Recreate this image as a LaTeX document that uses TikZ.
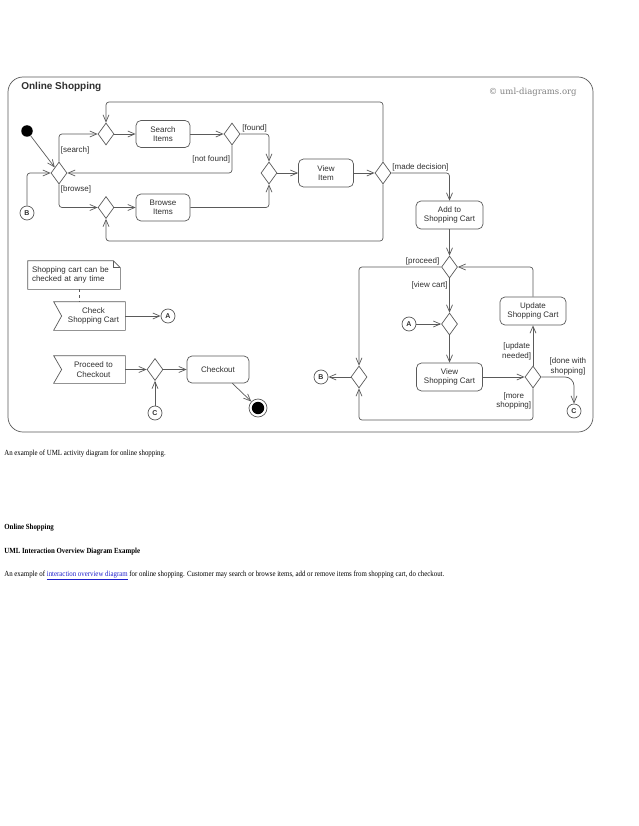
\documentclass[tikz,border=0pt]{standalone}
\usepackage{fontspec}
\setmainfont{Liberation Serif}
\setsansfont{Liberation Sans}
\newfontfamily\copyfont{DejaVu Serif}
\newfontfamily\pagefont[FakeStretch=0.88]{Liberation Serif}
\usetikzlibrary{shapes.geometric,arrows.meta}

\definecolor{linegray}{HTML}{5A5A5A}
\definecolor{textgray}{HTML}{303030}
\definecolor{linkblue}{HTML}{2020CC}

\tikzset{
  diag/.style={font=\sffamily\fontsize{8}{9.5}\selectfont, text=textgray},
  action/.style={diag, draw=linegray, rounded corners=5pt, align=center, inner sep=1pt},
  decision/.style={diamond, draw=linegray, minimum width=16pt, minimum height=22pt, inner sep=0pt},
  conn/.style={circle, draw=linegray, minimum size=14pt, inner sep=0pt, text=textgray, font=\sffamily\bfseries\fontsize{7}{8}\selectfont},
  initial/.style={circle, fill=black, minimum size=11.5pt, inner sep=0pt},
  final/.style={circle, draw=linegray, minimum size=18pt, inner sep=0pt,
    path picture={\fill[black] (path picture bounding box.center) circle (6.2pt);}},
  event/.style={diag, align=center, minimum width=63pt, inner sep=1pt},
  note/.style={diag, align=left, text width=84pt, minimum height=28pt, inner sep=4pt},
  guard/.style={diag, inner sep=1.5pt},
  flow/.style={draw=linegray, rounded corners=3pt, -{Straight Barb[length=7pt,width=6pt]}},
  page/.style={inner sep=0pt, anchor=base west, text=black, font=\pagefont\fontsize{7.8}{9}\selectfont}
}

\begin{document}
\begin{tikzpicture}[x=1pt,y=-1pt,line width=0.7pt]
\fill[white] (0,0) rectangle (638,826);
\useasboundingbox (0,0) rectangle (638,826);

% frame
\draw[linegray, rounded corners=15pt] (8,77) rectangle (593,432);
\node[anchor=west, inner sep=0pt, text=textgray, font=\sffamily\bfseries\fontsize{10}{12}\selectfont] (title) at (21,87) {Online Shopping};
\node[anchor=east, inner sep=0pt, text=gray, font=\copyfont\fontsize{8.5}{10}\selectfont] (copy) at (577,92) {© uml-diagrams.org};

\coordinate (looptop) at (0,102);
\coordinate (loopbot) at (0,241);
\coordinate (cartbot) at (0,420);

% search and browse
\node[initial] (init) at (27,131) {};
\node[decision] (d1) at (59,173) {};
\node[decision] (m1) at (106,134) {};
\node[action, minimum width=54pt, minimum height=27pt] (search) at (163,134) {Search\\Items};
\node[decision] (d2) at (232,134) {};
\node[decision] (m2) at (106,207.5) {};
\node[action, minimum width=54pt, minimum height=27pt] (browse) at (163,207.5) {Browse\\Items};
\node[decision] (m3) at (269,173) {};
\node[action, minimum width=55pt, minimum height=28pt] (view) at (326,173) {View\\Item};
\node[decision] (d4) at (383,173) {};
\node[conn] (b1) at (27,213) {B};

% shopping cart
\node[action, minimum width=67pt, minimum height=28pt] (add) at (449.5,215) {Add to\\Shopping Cart};
\node[decision] (d5) at (449.5,267) {};
\node[decision] (d7) at (449.5,324) {};
\node[conn] (a2) at (409,324) {A};
\node[action, minimum width=66pt, minimum height=28pt] (vcart) at (449.5,377) {View\\Shopping Cart};
\node[decision] (d8) at (533,377) {};
\node[action, minimum width=66pt, minimum height=28pt] (ucart) at (533,311) {Update\\Shopping Cart};
\node[decision] (d6) at (359,377) {};
\node[conn] (b2) at (321,377) {B};
\node[conn] (c2) at (574,411) {C};

% events and checkout
\node[note] (note) at (74,275) {Shopping cart can be\\checked at any time};
\node[event, minimum height=28pt] (check) at (93.5,316) {Check\\Shopping Cart};
\node[conn] (a1) at (168,316) {A};
\node[event, minimum height=27pt] (proceed) at (93.5,369.5) {Proceed to\\Checkout};
\node[decision] (d9) at (155,369.5) {};
\node[conn] (c1) at (155,413) {C};
\node[action, minimum width=62pt, minimum height=27pt] (checkout) at (218,369.5) {Checkout};
\node[final] (final) at (258,408) {};

\foreach \n in {check,proceed}
  \draw[linegray] ([xshift=-8pt]\n.north west) -- (\n.north east) -- (\n.south east)
    -- ([xshift=-8pt]\n.south west) -- (\n.west) -- cycle;
\draw[linegray] (note.north west) -- ([xshift=-7pt]note.north east) -- ([yshift=-7pt]note.north east)
  -- (note.south east) -- (note.south west) -- cycle;
\draw[linegray] ([xshift=-7pt]note.north east) -- ([xshift=-7pt,yshift=-7pt]note.north east) -- ([yshift=-7pt]note.north east);
\draw[linegray, dashed] ([xshift=5pt]note.south) -- ([xshift=5pt]note.south |- check.north);

% flows, upper part
\draw[flow] (init) -- (d1);
\draw[flow] (b1) |- (d1);
\draw[flow] (d1) |- node[guard, pos=0.2, anchor=west] {[search]} (m1);
\draw[flow] (d1) |- node[guard, pos=0, anchor=north west] {[browse]} (m2);
\draw[flow] (m1) -- (search);
\draw[flow] (search) -- (d2);
\draw[flow] (d2) -| node[guard, pos=0.25, anchor=south] {[found]} (m3);
\draw[flow] (d2) |- node[guard, pos=0.25, anchor=east] {[not found]} (d1);
\draw[flow] (m2) -- (browse);
\draw[flow] (browse) -| (m3);
\draw[flow] (m3) -- (view);
\draw[flow] (view) -- (d4);
\draw[flow] (d4) |- (m1 |- looptop) -- (m1);
\draw[flow] (d4) |- (m2 |- loopbot) -- (m2);
\draw[flow] (d4) -| node[guard, pos=0.25, anchor=south] {[made decision]} (add);

% flows, shopping cart
\draw[flow] (add) -- (d5);
\draw[flow] (d5) -| node[guard, pos=0, anchor=south east] {[proceed]} (d6);
\draw[flow] (d5) -- node[guard, pos=0.2, anchor=east] {[view cart]} (d7);
\draw[flow] (a2) -- (d7);
\draw[flow] (d7) -- (vcart);
\draw[flow] (vcart) -- (d8);
\draw[flow] (d8) -- node[guard, pos=0.35, anchor=east, align=center] {[update\\needed]} (ucart);
\draw[flow] (ucart) |- (d5);
\draw[flow, rounded corners=9pt] (d8) -| node[guard, pos=0.1, anchor=south west, align=center] {[done with\\shopping]} (c2);
\draw[flow] (d8) -- node[guard, pos=0.4, anchor=east, align=center] {[more\\shopping]} (d8 |- cartbot) -| (d6);
\draw[flow] (d6) -- (b2);

% flows, lower left
\draw[flow] (check) -- (a1);
\draw[flow] (proceed) -- (d9);
\draw[flow] (c1) -- (d9);
\draw[flow] (d9) -- (checkout);
\draw[flow] (checkout) -- (final);

% page text
\node[page] (caption) at (4,455) {An example of UML activity diagram for online shopping.};
\node[page, font=\pagefont\bfseries\fontsize{7.8}{9}\selectfont] (head) at (4,529) {Online Shopping};
\node[page, font=\pagefont\bfseries\fontsize{7.8}{9}\selectfont] (sub) at (4,553) {UML Interaction Overview Diagram Example};
\node[page] (desc) at (4,576) {An example of \textcolor{linkblue}{\underline{interaction overview diagram}} for online shopping. Customer may search or browse items, add or remove items from shopping cart, do checkout.};
\end{tikzpicture}
\end{document}
